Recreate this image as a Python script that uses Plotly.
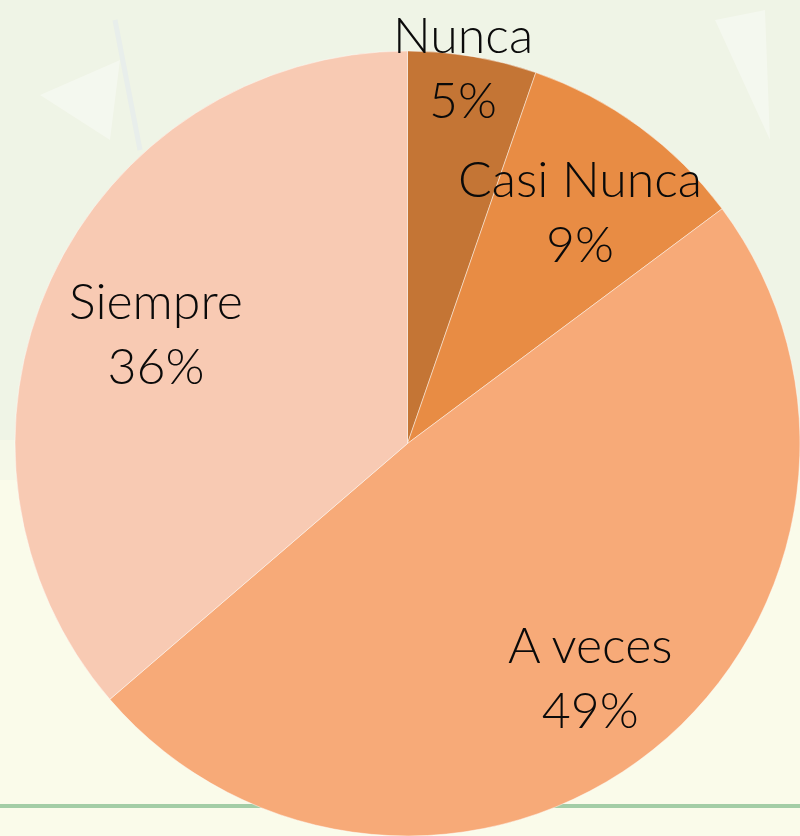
import plotly.graph_objects as go

categorias = ["Nunca", "Casi Nunca", "A veces", "Siempre"]
valores = [5.3, 9.5, 48.9, 36.3]
etiquetas_pct = ["5%", "9%", "49%", "36%"]
colores = ["#C47535", "#E88C44", "#F7AA78", "#F8CAB3"]

W, H = 800, 836
ML, MT = 15, 51
D = 785  # side of the pie domain in px


def px(x, y):
    # pixel position -> paper coords
    return (x - ML) / D, 1 - (y - MT) / D


# label block centres (same order as categorias)
pos_labels = [(463, 66), (580, 211), (590, 676), (156, 333)]

fig = go.Figure(go.Pie(
    labels=categorias, values=valores,
    sort=False, direction="clockwise", rotation=0,
    marker=dict(colors=colores, line=dict(color="rgba(255,255,255,0.45)", width=1)),
    textinfo="none", hoverinfo="label+percent",
    showlegend=False,
))

anns = []
for cat, pct, (x, y) in zip(categorias, etiquetas_pct, pos_labels):
    ax, ay = px(x, y)
    anns.append(dict(
        text=cat + "<br>" + pct, x=ax, y=ay, xref="paper", yref="paper",
        xanchor="center", yanchor="middle", showarrow=False, align="center",
        font=dict(family="Lato", size=50, color="#0A0A0A", weight=300),
    ))

x0, x1 = px(0, 0)[0], px(800, 0)[0]
shapes = [
    # yellowish lower half of the backdrop
    dict(type="rect", xref="paper", yref="paper", x0=x0, x1=x1,
         y0=px(0, 480)[1], y1=px(0, 836)[1], fillcolor="#FAFBEA", line_width=0, layer="below"),
    dict(type="rect", xref="paper", yref="paper", x0=x0, x1=x1,
         y0=px(0, 440)[1], y1=px(0, 480)[1], fillcolor="#F5F8E8", line_width=0, layer="below"),
    # faint leaf highlights
    dict(type="path", xref="paper", yref="paper", layer="below", line_width=0,
         fillcolor="rgba(255,255,255,0.35)",
         path="M {} {} L {} {} L {} {} Z".format(*px(40, 95), *px(120, 60), *px(110, 140))),
    dict(type="path", xref="paper", yref="paper", layer="below", line_width=0,
         fillcolor="rgba(255,255,255,0.35)",
         path="M {} {} L {} {} L {} {} Z".format(*px(715, 20), *px(765, 10), *px(770, 140))),
    dict(type="line", xref="paper", yref="paper", x0=px(115, 0)[0], x1=px(140, 0)[0],
         y0=px(0, 20)[1], y1=px(0, 150)[1], line=dict(color="rgba(225,232,240,0.5)", width=5),
         layer="below"),
    # green rule near the bottom
    dict(type="line", xref="paper", yref="paper", x0=x0, x1=x1,
         y0=px(0, 806)[1], y1=px(0, 806)[1], line=dict(color="#A3CDA6", width=4), layer="below"),
]

fig.update_layout(
    width=W, height=H,
    margin=dict(l=ML, r=W - ML - D, t=MT, b=H - MT - D),
    paper_bgcolor="#EFF4E6",
    annotations=anns, shapes=shapes,
)

fig.write_html("out.html", config={"displayModeBar": False},
               post_script="document.body.style.margin='0';")
